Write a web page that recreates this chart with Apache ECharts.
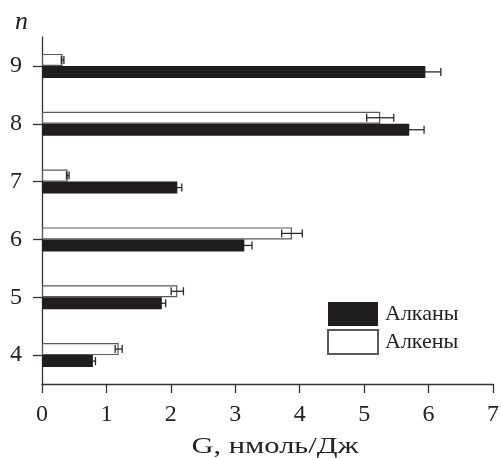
<!DOCTYPE html>
<html>
<head>
<meta charset="utf-8">
<script src="https://cdn.jsdelivr.net/npm/echarts@6/dist/echarts.min.js"></script>
<style>
  html, body { margin: 0; padding: 0; background: #fff; }
  #chart { width: 502px; height: 458px; }
</style>
</head>
<body>
<div id="chart"></div>
<script>
// Number of carbon atoms n
const categories = ['4', '5', '6', '7', '8', '9'];
// Radiation-chemical yield G, nmol/J
const alkanes = [0.79, 1.86, 3.14, 2.10, 5.70, 5.95];
const alkanesErr = [0.04, 0.06, 0.12, 0.07, 0.23, 0.24];
const alkenes = [1.19, 2.10, 3.88, 0.40, 5.25, 0.32];
const alkenesErr = [0.055, 0.095, 0.16, 0.02, 0.21, 0.02];
const xTicks = [0, 1, 2, 3, 4, 5, 6, 7];

const FONT = "'Liberation Serif', 'Times New Roman', serif";
const BAR_W = 12;

const chart = echarts.init(document.getElementById('chart'), null, { renderer: 'canvas' });

// Error bar at the end of each bar; shift moves it onto its own bar
function errorSeries(values, errors, shift, z) {
  return {
    type: 'custom',
    silent: true,
    z: z,
    data: values.map((v, i) => [i, v, errors[i]]),
    encode: { x: 1, y: 0 },
    renderItem: function (params, api) {
      const idx = api.value(0);
      const v = api.value(1);
      const e = api.value(2);
      const lo = api.coord([v - e, idx]);
      const hi = api.coord([v + e, idx]);
      const y = lo[1] + shift;
      const cap = 4;
      const style = { stroke: '#2a2a2a', lineWidth: 1.3 };
      return {
        type: 'group',
        children: [
          { type: 'line', shape: { x1: lo[0], y1: y, x2: hi[0], y2: y }, style: style },
          { type: 'line', shape: { x1: lo[0], y1: y - cap, x2: lo[0], y2: y + cap }, style: style },
          { type: 'line', shape: { x1: hi[0], y1: y - cap, x2: hi[0], y2: y + cap }, style: style }
        ]
      };
    }
  };
}

chart.setOption({
  animation: false,
  backgroundColor: '#fff',
  grid: { left: 42, right: 7, top: 37, bottom: 74, containLabel: false },
  legend: {
    data: [
      { name: 'Алканы', icon: 'rect' },
      { name: 'Алкены', icon: 'rect' }
    ],
    orient: 'vertical',
    left: 322,
    top: 297,
    itemWidth: 50,
    itemHeight: 24,
    itemGap: 3,
    textStyle: { fontFamily: FONT, fontSize: 22, color: '#222', padding: [0, 0, 0, 2] }
  },
  xAxis: {
    type: 'value',
    min: xTicks[0],
    max: xTicks[xTicks.length - 1],
    interval: 1,
    splitLine: { show: false },
    axisLine: { show: true, lineStyle: { color: '#333', width: 1.3 } },
    axisTick: { show: true, length: 9, lineStyle: { color: '#333', width: 1.3 } },
    axisLabel: { fontFamily: FONT, fontSize: 24, color: '#222', margin: 19 }
  },
  yAxis: {
    type: 'category',
    data: categories,
    boundaryGap: true,
    axisLine: { show: true, lineStyle: { color: '#333', width: 1.3 } },
    axisTick: { show: true, alignWithLabel: true, length: 9, lineStyle: { color: '#333', width: 1.3 } },
    axisLabel: { fontFamily: FONT, fontSize: 24, color: '#222', margin: 20 }
  },
  graphic: [
    {
      type: 'text', left: 15, top: 9,
      style: { text: 'n', font: 'italic 26px ' + FONT, fill: '#222' }
    },
    {
      type: 'text', x: 275, y: 447, scaleX: 1.27,
      style: { text: 'G, нмоль/Дж', font: '24px ' + FONT, fill: '#222', align: 'center', verticalAlign: 'middle' }
    }
  ],
  series: [
    {
      name: 'Алкены',
      type: 'bar',
      data: alkenes,
      barWidth: BAR_W,
      barGap: '0%',
      z: 2,
      itemStyle: { color: '#fff', borderColor: '#5a5a5a', borderWidth: 1.2 }
    },
    {
      name: 'Алканы',
      type: 'bar',
      data: alkanes,
      barWidth: BAR_W,
      barGap: '0%',
      z: 2,
      itemStyle: { color: '#1f1d1e' }
    },
    errorSeries(alkenes, alkenesErr, -6, 5),
    errorSeries(alkanes, alkanesErr, 6, 1)
  ]
});
</script>
</body>
</html>
